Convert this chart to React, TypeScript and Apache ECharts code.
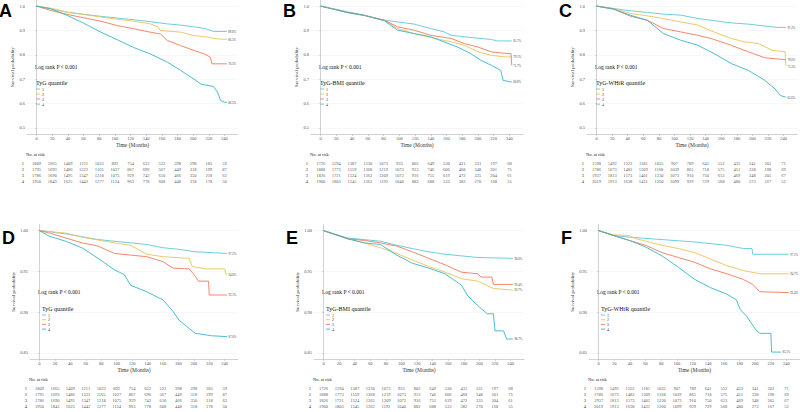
import React, { useEffect, useRef } from "react";
import * as echarts from "echarts";

// ---------- data ----------
const timeTicks = [0, 20, 40, 60, 80, 100, 120, 140, 160, 180, 200, 220, 240];
const groups = ["1", "2", "3", "4"];
const panelLetters = ["A", "B", "C", "D", "E", "F"];
const legendTitles = [
  "TyG quantile", "TyG-BMI quantile", "TyG-WHtR quantile",
  "TyG quantile", "TyG-BMI quantile", "TyG-WHtR quantile",
];
const pText = "Log rank P < 0.001";
const yTicksTop = [0.5, 0.6, 0.7, 0.8, 0.9, 1.0];
const yTicksBottom = [0.85, 0.9, 0.95, 1.0];

// Panel A (TyG, top)
const A1 = [[0,1],[20,0.988],[39,0.975],[60,0.966],[82,0.958],[103,0.951],[124,0.944],[145,0.936],[167,0.927],[184,0.922],[201,0.915],[215,0.908],[226,0.896],[243,0.896]];
const A2 = [[0,1],[20,0.99],[39,0.975],[60,0.966],[82,0.955],[103,0.946],[124,0.938],[145,0.927],[155,0.915],[158,0.9],[184,0.893],[201,0.879],[218,0.873],[230,0.866],[243,0.863]];
const A3 = [[0,1],[18,0.982],[39,0.966],[60,0.952],[82,0.938],[103,0.92],[124,0.907],[145,0.893],[158,0.886],[167,0.859],[184,0.838],[201,0.818],[214,0.804],[222,0.79],[224,0.763],[243,0.763]];
const A4 = [[0,1],[18,0.989],[39,0.962],[60,0.93],[82,0.893],[103,0.862],[124,0.83],[145,0.804],[167,0.77],[184,0.736],[201,0.7],[210,0.68],[226,0.67],[231,0.647],[235,0.613],[240,0.605],[243,0.605]];
// Panel B (TyG-BMI, top)
const B1 = [[0,1],[34,0.977],[55,0.963],[81,0.942],[98,0.935],[119,0.926],[140,0.908],[157,0.894],[166,0.88],[191,0.871],[217,0.863],[225,0.857],[243,0.857]];
const B2 = [[0,1],[34,0.975],[55,0.962],[81,0.942],[98,0.908],[119,0.887],[140,0.871],[166,0.853],[183,0.839],[200,0.812],[217,0.798],[232,0.792],[243,0.791]];
const B3 = [[0,1],[34,0.974],[55,0.962],[81,0.942],[98,0.915],[119,0.901],[140,0.88],[166,0.867],[183,0.846],[200,0.832],[217,0.812],[238,0.805],[242,0.805],[243,0.757]];
const B4 = [[0,1],[34,0.973],[55,0.962],[81,0.94],[98,0.901],[119,0.887],[140,0.874],[157,0.853],[174,0.832],[191,0.805],[204,0.777],[217,0.757],[229,0.736],[232,0.695],[243,0.688]];
// Panel C (TyG-WHtR, top)
const C1 = [[0,1],[22,0.99],[43,0.981],[65,0.974],[86,0.967],[108,0.963],[130,0.949],[151,0.94],[173,0.931],[195,0.926],[216,0.918],[230,0.913],[243,0.912]];
const C2 = [[0,1],[22,0.99],[43,0.97],[65,0.96],[86,0.949],[108,0.935],[130,0.922],[147,0.898],[173,0.867],[190,0.853],[208,0.846],[225,0.819],[242,0.812],[243,0.753]];
const C3 = [[0,1],[22,0.988],[43,0.959],[65,0.942],[86,0.908],[108,0.894],[130,0.88],[147,0.867],[173,0.839],[195,0.812],[216,0.788],[229,0.784],[243,0.78]];
const C4 = [[0,1],[22,0.987],[43,0.963],[65,0.942],[86,0.887],[108,0.86],[130,0.839],[151,0.805],[173,0.764],[195,0.736],[216,0.695],[229,0.66],[236,0.633],[243,0.626]];
// Panel D (TyG, bottom)
const D1 = [[0,1],[34,0.996],[76,0.989],[118,0.985],[139,0.983],[160,0.979],[181,0.977],[202,0.974],[243,0.972]];
const D2 = [[0,1],[34,0.997],[55,0.992],[97,0.985],[118,0.982],[139,0.971],[160,0.968],[194,0.966],[198,0.956],[215,0.953],[240,0.953],[242,0.946],[243,0.946]];
const D3 = [[0,1],[13,0.997],[34,0.991],[55,0.985],[76,0.981],[97,0.972],[118,0.97],[139,0.968],[160,0.962],[173,0.954],[194,0.953],[202,0.944],[206,0.938],[219,0.938],[220,0.921],[243,0.921]];
const D4 = [[0,1],[13,0.993],[34,0.987],[55,0.979],[76,0.966],[97,0.952],[110,0.946],[118,0.933],[139,0.925],[160,0.915],[173,0.901],[181,0.89],[194,0.88],[202,0.874],[223,0.871],[243,0.87]];
// Panel E (TyG-BMI, bottom)
const E1 = [[0,1],[31,0.991],[52,0.989],[73,0.987],[94,0.982],[114,0.978],[135,0.974],[156,0.971],[177,0.969],[198,0.967],[243,0.966]];
const E2 = [[0,1],[31,0.99],[52,0.985],[73,0.979],[94,0.972],[114,0.964],[135,0.956],[156,0.949],[177,0.941],[198,0.938],[218,0.929],[243,0.927]];
const E3 = [[0,1],[31,0.99],[52,0.988],[73,0.985],[94,0.981],[114,0.974],[135,0.966],[156,0.958],[177,0.949],[198,0.947],[202,0.943],[216,0.943],[218,0.934],[243,0.934]];
const E4 = [[0,1],[31,0.99],[52,0.985],[73,0.983],[94,0.97],[114,0.96],[135,0.954],[156,0.947],[177,0.933],[185,0.92],[198,0.908],[210,0.898],[218,0.898],[220,0.877],[231,0.877],[235,0.867],[243,0.867]];
// Panel F (TyG-WHtR, bottom)
const F1 = [[0,1],[19,0.994],[39,0.992],[81,0.989],[123,0.986],[143,0.984],[164,0.982],[185,0.978],[196,0.978],[197,0.971],[243,0.971]];
const F2 = [[0,1],[19,0.995],[39,0.994],[48,0.99],[81,0.982],[102,0.978],[123,0.973],[143,0.965],[164,0.957],[185,0.951],[206,0.947],[243,0.947]];
const F3 = [[0,1],[19,0.994],[39,0.988],[60,0.982],[81,0.973],[102,0.967],[123,0.961],[143,0.953],[164,0.947],[185,0.94],[197,0.934],[206,0.925],[243,0.924]];
const F4 = [[0,1],[19,0.994],[39,0.988],[60,0.98],[81,0.969],[102,0.955],[123,0.94],[143,0.93],[164,0.922],[176,0.915],[181,0.903],[189,0.895],[201,0.878],[206,0.874],[220,0.874],[221,0.851],[233,0.851]];

// Numbers at risk
const riskTyG = [
  [1809, 1665, 1409, 1211, 1033, 892, 754, 622, 523, 398, 298, 183, 59],
  [1795, 1693, 1486, 1322, 1165, 1027, 867, 696, 567, 449, 318, 199, 87],
  [1786, 1690, 1495, 1347, 1218, 1075, 929, 742, 610, 466, 350, 218, 63],
  [1950, 1843, 1625, 1442, 1277, 1124, 963, 778, 608, 448, 318, 178, 50],
];
const riskBMI = [
  [1726, 1594, 1387, 1230, 1073, 933, 802, 649, 530, 431, 331, 197, 68],
  [1888, 1773, 1559, 1368, 1219, 1073, 913, 746, 606, 468, 348, 201, 75],
  [1826, 1721, 1524, 1362, 1209, 1072, 916, 755, 619, 472, 335, 204, 61],
  [1900, 1803, 1545, 1362, 1192, 1040, 882, 688, 533, 382, 270, 168, 55],
];
const riskWHtR = [
  [1598, 1492, 1322, 1181, 1035, 907, 789, 641, 552, 433, 341, 202, 71],
  [1786, 1673, 1482, 1309, 1168, 1039, 865, 718, 575, 451, 338, 198, 69],
  [1937, 1813, 1573, 1401, 1230, 1073, 910, 750, 613, 469, 348, 205, 67],
  [2019, 1913, 1638, 1431, 1260, 1099, 929, 729, 568, 480, 273, 167, 52],
];

const curves = [
  [A1, A2, A3, A4], [B1, B2, B3, B4], [C1, C2, C3, C4],
  [D1, D2, D3, D4], [E1, E2, E3, E4], [F1, F2, F3, F4],
];
const risks = [riskTyG, riskBMI, riskWHtR, riskTyG, riskBMI, riskWHtR];

// ---------- styling / layout ----------
const colors = ["#5cc8d7", "#ecc35a", "#f27b5c", "#36b5c9"];
const SERIF = "'Liberation Serif', 'Times New Roman', serif";
const X_MIN = -12.25;
const X_MAX = 257.25;

const layout = [
  { left: 27, width: 211, row: 0 },
  { left: 311, width: 212, row: 0 },
  { left: 587, width: 210, row: 0 },
  { left: 30, width: 208, row: 1 },
  { left: 314, width: 210, row: 1 },
  { left: 589, width: 211, row: 1 },
];
const rows = [
  { top: 0, height: 134, tTop: 160, tHeight: 24, yMin: 0.475, yMax: 1.025, nameGap: 11, digits: 1 },
  { top: 224.5, height: 134.5, tTop: 385, tHeight: 24, yMin: 0.8425, yMax: 1.0075, nameGap: 14, digits: 2 },
];

function buildOption() {
  const grid: any[] = [];
  const xAxis: any[] = [];
  const yAxis: any[] = [];
  const series: any[] = [];
  const graphic: any[] = [];

  layout.forEach((L, p) => {
    const R = rows[L.row];
    const yTicks = L.row === 0 ? yTicksTop : yTicksBottom;
    grid.push({ left: L.left, width: L.width, top: R.top, height: R.height, containLabel: false });
    xAxis.push({
      type: "value", gridIndex: p, min: X_MIN, max: X_MAX,
      name: "Time (Months)", nameLocation: "middle", nameGap: 6,
      nameTextStyle: { fontFamily: SERIF, fontSize: 5.5, color: "#333" },
      axisLine: { lineStyle: { color: "#b3b3b3", width: 0.6 } },
      axisTick: { show: true, length: 2, customValues: timeTicks, lineStyle: { color: "#b3b3b3", width: 0.5 } },
      axisLabel: { customValues: timeTicks, fontFamily: SERIF, fontSize: 4.5, color: "#555", margin: 2 },
      splitLine: { show: false },
    });
    yAxis.push({
      type: "value", gridIndex: p, min: R.yMin, max: R.yMax,
      name: "Survival probability", nameLocation: "middle", nameGap: R.nameGap,
      nameTextStyle: { fontFamily: SERIF, fontSize: 5, color: "#333" },
      axisLine: { show: true, lineStyle: { color: "#b3b3b3", width: 0.6 } },
      axisTick: { show: true, length: 1.5, customValues: yTicks, lineStyle: { color: "#b3b3b3", width: 0.5 } },
      axisLabel: {
        customValues: yTicks, fontFamily: SERIF, fontSize: 4.5, color: "#555", margin: 2,
        formatter: (v: number) => v.toFixed(R.digits),
      },
      splitLine: { show: true, lineStyle: { color: "#efefef", width: 0.5 } },
    });

    curves[p].forEach((data, g) => {
      series.push({
        type: "line", name: groups[g], xAxisIndex: p, yAxisIndex: p,
        data, symbol: "none", silent: true,
        lineStyle: { color: colors[g], width: 0.9 },
        itemStyle: { color: colors[g] },
        endLabel: {
          show: true, fontSize: 3, color: "#444", fontFamily: SERIF, distance: 1.5,
          formatter: (prm: any) => (prm.value[1] * 100).toFixed(1) + "%",
        },
      });
    });

    // Panel letter
    graphic.push({
      type: "text", left: L.left - 28, top: R.top + (L.row === 0 ? 2 : 4),
      style: { text: panelLetters[p], font: "bold 18px 'Liberation Sans', Arial, sans-serif", fill: "#000" },
    });
    // Log-rank text
    graphic.push({
      type: "text", x: L.left + 8, y: R.top + (L.row === 0 ? 67 : 67.5),
      style: { text: pText, font: `5.5px ${SERIF}`, fill: "#111", verticalAlign: "middle" },
    });
    // Legend
    const lx = L.left + (L.row === 0 ? 9 : 12);
    const ly = R.top + (L.row === 0 ? 83 : 84.5);
    const step = L.row === 0 ? 5 : 4.7;
    graphic.push({
      type: "text", x: lx, y: ly,
      style: { text: legendTitles[p], font: `6px ${SERIF}`, fill: "#111", verticalAlign: "middle" },
    });
    groups.forEach((gname, g) => {
      const yy = ly + 6 + g * step;
      graphic.push({
        type: "line", shape: { x1: lx, y1: yy, x2: lx + 4, y2: yy },
        style: { stroke: colors[g], lineWidth: 0.9 },
      });
      graphic.push({
        type: "text", x: lx + 6, y: yy,
        style: { text: gname, font: `4px ${SERIF}`, fill: "#333", verticalAlign: "middle" },
      });
    });
    // No. at risk header
    graphic.push({
      type: "text", x: L.left - 1, y: R.tTop - 6,
      style: { text: "No. at risk", font: `4.5px ${SERIF}`, fill: "#222", verticalAlign: "middle" },
    });
  });

  // Risk tables
  layout.forEach((L, p) => {
    const R = rows[L.row];
    const gi = 6 + p;
    grid.push({ left: L.left, width: L.width, top: R.tTop, height: R.tHeight });
    xAxis.push({
      type: "value", gridIndex: gi, min: X_MIN, max: X_MAX, show: false,
    });
    yAxis.push({
      type: "category", gridIndex: gi, data: groups, inverse: true,
      axisLine: { show: false }, axisTick: { show: false }, splitLine: { show: false },
      axisLabel: { interval: 0, fontFamily: SERIF, fontSize: 4.5, color: "#333", margin: 3 },
    });
    risks[p].forEach((row, g) => {
      series.push({
        type: "scatter", xAxisIndex: gi, yAxisIndex: gi, symbolSize: 0, silent: true,
        data: timeTicks.map((t, i) => [t, groups[g], row[i]]),
        label: {
          show: true, position: "inside", fontFamily: SERIF, fontSize: 4.5, color: "#222",
          formatter: (prm: any) => String(prm.value[2]),
        },
      });
    });
  });

  return {
    animation: false,
    backgroundColor: "#ffffff",
    textStyle: { fontFamily: SERIF },
    grid, xAxis, yAxis, series, graphic,
  };
}

export default function App() {
  const ref = useRef<HTMLDivElement>(null);
  useEffect(() => {
    if (!ref.current) return;
    const chart = echarts.init(ref.current, undefined, { renderer: "svg" });
    chart.setOption(buildOption() as any);
    return () => chart.dispose();
  }, []);
  return (
    <div
      ref={ref}
      style={{ position: "fixed", left: 0, top: 0, width: 800, height: 412, background: "#fff" }}
    />
  );
}
